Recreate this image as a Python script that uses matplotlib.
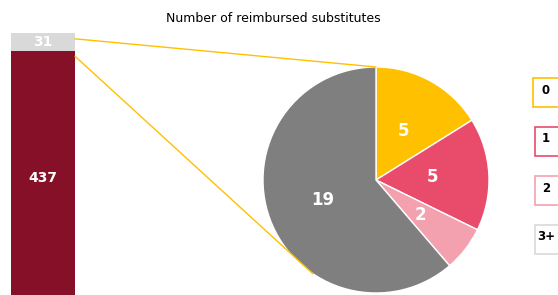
import numpy as np
import matplotlib.pyplot as plt
from matplotlib.patches import ConnectionPatch, Rectangle

# data
bar_labels = ['437', '31']
bar_values = [437, 31]
bar_colors = ['#861027', '#D9D9D9']

pie_labels = ['0', '1', '2', '3+']
pie_values = [5, 5, 2, 19]
pie_colors = ['#FFC000', '#E94B6B', '#F4A1AF', '#7F7F7F']

title = 'Number of reimbursed substitutes'

W, H = 558, 295
fig = plt.figure(figsize=(W / 100, H / 100), dpi=100)


def fig_box(x0, y0, x1, y1):
    # pixel box (top-left origin) -> figure fraction rect
    return [x0 / W, 1 - y1 / H, (x1 - x0) / W, (y1 - y0) / H]


# stacked bar on the left
ax_bar = fig.add_axes(fig_box(11, 33, 75, 305))
bottom = 0
for v, lab, c in zip(bar_values, bar_labels, bar_colors):
    ax_bar.bar(0, v, width=1, bottom=bottom, color=c, edgecolor='none')
    ax_bar.text(0, bottom + v / 2, lab, ha='center', va='center', color='white',
                fontsize=10, fontweight='bold')
    bottom += v
ax_bar.set_xlim(-0.5, 0.5)
ax_bar.set_ylim(0, sum(bar_values))
ax_bar.axis('off')

# pie on the right
ax_pie = fig.add_axes(fig_box(263, 67, 489, 293))
wedges, texts, autotexts = ax_pie.pie(
    pie_values, colors=pie_colors, startangle=90, counterclock=False,
    autopct=lambda p: '%d' % round(p * sum(pie_values) / 100),
    pctdistance=0.5, wedgeprops=dict(edgecolor='white', linewidth=1),
    textprops=dict(color='white', fontsize=12, fontweight='bold'))
ax_pie.set_xlim(-1, 1)
ax_pie.set_ylim(-1, 1)
ax_pie.set_aspect('equal')

fig.text(273 / W, 1 - 18 / H, title, ha='center', va='center', fontsize=9)

# connector lines from bar to pie
total = sum(bar_values)
ang = np.deg2rad(236)
for ya, pb in [(total - 10, (0, 1)), (bar_values[0] - 9, (np.cos(ang), np.sin(ang)))]:
    con = ConnectionPatch(xyA=(0.5, ya), coordsA=ax_bar.transData,
                          xyB=pb, coordsB=ax_pie.transData,
                          color='#FFC000', linewidth=1)
    fig.add_artist(con)

# legend boxes at right
for i, (lab, c) in enumerate(zip(pie_labels, pie_colors)):
    y0 = 78 + i * 49
    edge = '#D9D9D9' if lab == '3+' else c
    rect = Rectangle(((533 + min(i, 1) * 1.5) / W, 1 - (y0 + 29) / H), 32 / W, 29 / H,
                     transform=fig.transFigure, facecolor='white',
                     edgecolor=edge, linewidth=1.2)
    fig.add_artist(rect)
    fig.text(546 / W, 1 - (y0 + 12) / H, lab, ha='center', va='center',
             fontsize=8.5, fontweight='bold')

fig.savefig('out.png', dpi=100)
